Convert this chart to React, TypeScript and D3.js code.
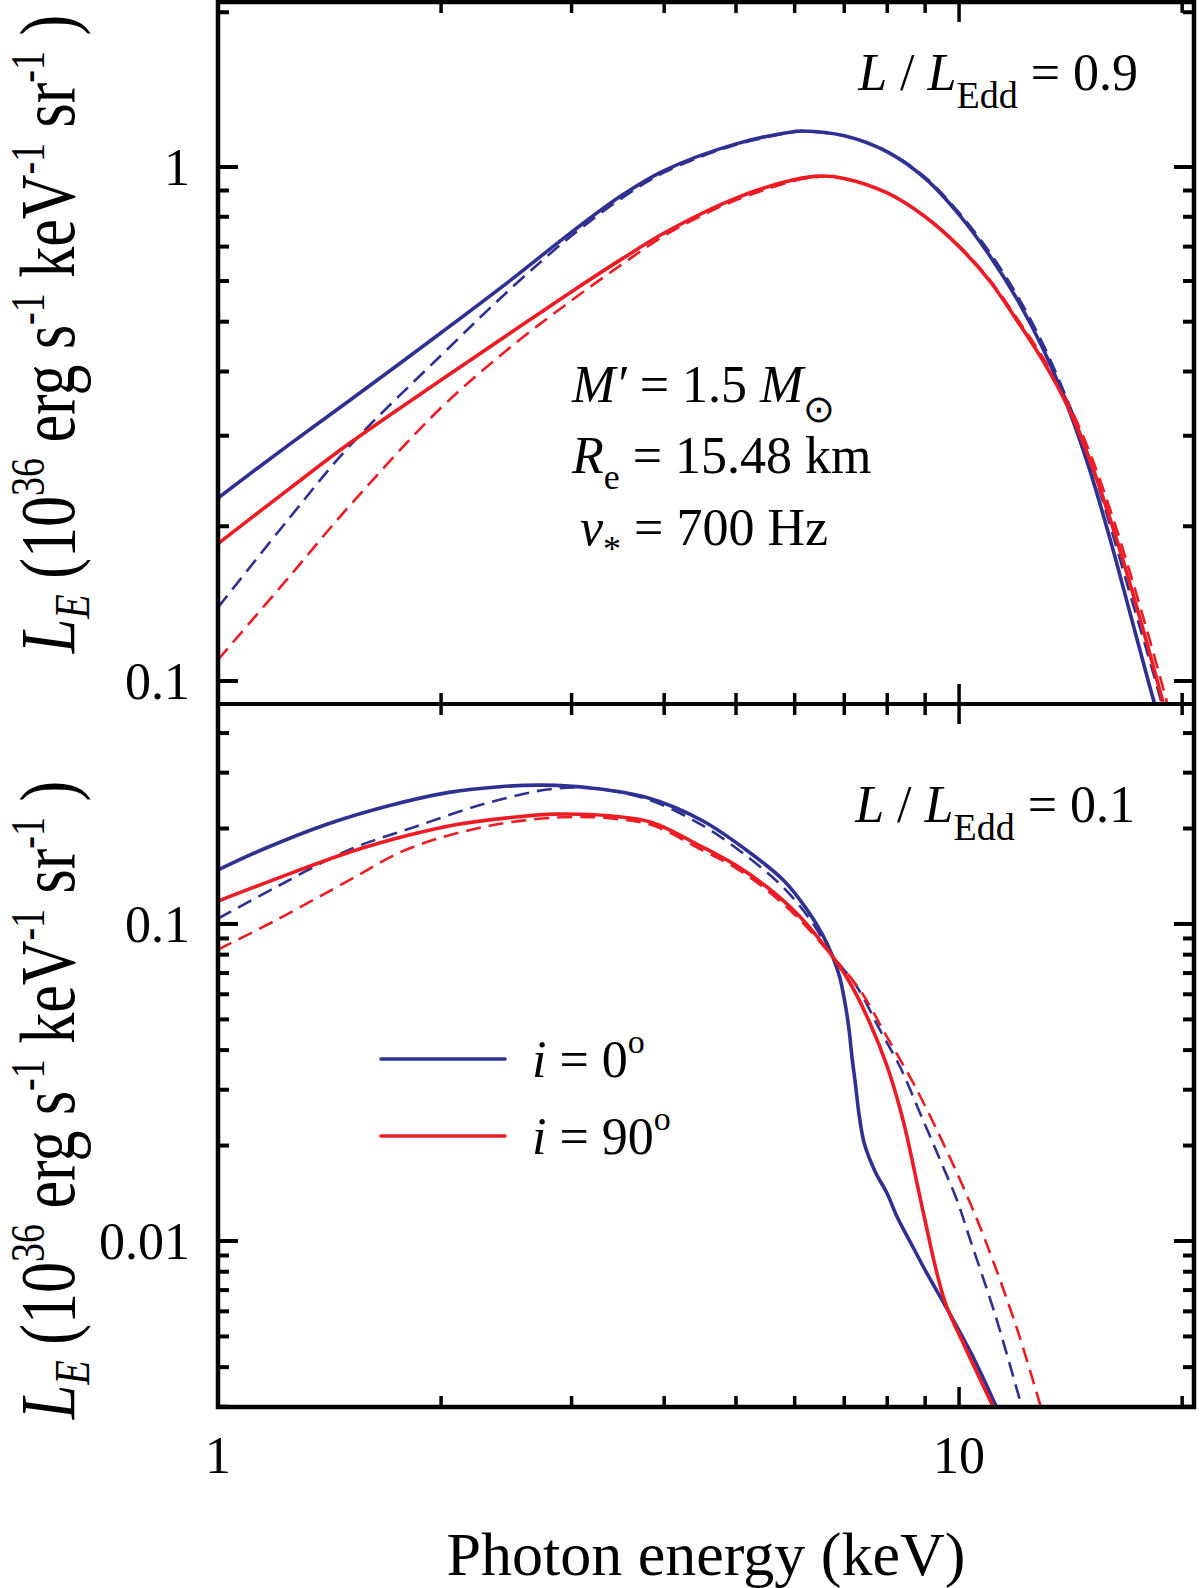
import React from 'react';
import * as d3 from 'd3';

// x axis (photon energy, keV)
const xDomain: [number, number] = [1, 20.75];
const xMajor = [1, 10];
const xMinor = [2, 3, 4, 5, 6, 7, 8, 9, 20];
const xLabels = ['1', '10'];

// top panel, L/LEdd = 0.9
const topDomain: [number, number] = [0.0902, 2.094];
const topMajor = [1, 0.1];
const topMinor = [2, 0.2, 0.3, 0.4, 0.5, 0.6, 0.7, 0.8, 0.9];
const topLabels = ['1', '0.1'];

const topBlueSolidE = [1, 1.25, 1.5, 2, 2.5, 3, 3.5, 4, 5, 6, 6.14, 7, 8, 9, 10, 11, 12, 13, 14, 15, 16, 17, 18, 18.6];
const topBlueSolidL = [0.227, 0.289, 0.35, 0.476, 0.607, 0.747, 0.879, 0.984, 1.109, 1.172, 1.175, 1.15, 1.07, 0.95, 0.808, 0.672, 0.55, 0.441, 0.343, 0.258, 0.188, 0.136, 0.1, 0.0845];
const topBlueDashE = [1, 1.25, 1.5, 2, 2.5, 3, 3.5, 4, 5, 6, 6.14, 7, 8, 9, 10, 11, 12, 13, 14, 15, 16, 17, 18, 19];
const topBlueDashL = [0.139, 0.208, 0.285, 0.43, 0.585, 0.735, 0.868, 0.976, 1.105, 1.17, 1.173, 1.15, 1.072, 0.955, 0.815, 0.682, 0.56, 0.45, 0.352, 0.27, 0.2, 0.148, 0.112, 0.085];
const topRedSolidE = [1, 1.25, 1.5, 2, 2.5, 3, 3.5, 4, 5, 6, 6.5, 7, 8, 9, 10, 11, 12, 13, 14, 15, 16, 17, 18, 19];
const topRedSolidL = [0.185, 0.237, 0.289, 0.385, 0.479, 0.572, 0.661, 0.744, 0.87, 0.945, 0.96, 0.95, 0.89, 0.8, 0.7, 0.6, 0.5, 0.418, 0.343, 0.27, 0.206, 0.155, 0.116, 0.087];
const topRedDashE = [1, 1.25, 1.5, 2, 2.5, 3, 3.5, 4, 4.5, 5, 6, 6.5, 7, 8, 9, 10, 11, 12, 13, 14, 15, 16, 17, 18, 19, 19.5];
const topRedDashL = [0.11, 0.16, 0.218, 0.34, 0.45, 0.55, 0.645, 0.735, 0.805, 0.862, 0.94, 0.957, 0.95, 0.89, 0.8, 0.702, 0.603, 0.505, 0.424, 0.35, 0.279, 0.215, 0.163, 0.123, 0.093, 0.081];

// bottom panel, L/LEdd = 0.1
const botDomain: [number, number] = [0.002995, 0.494];
const botMajor = [0.1, 0.01];
const botMinor = [0.2, 0.3, 0.4, 0.02, 0.03, 0.04, 0.05, 0.06, 0.07, 0.08, 0.09, 0.003, 0.004, 0.005, 0.006, 0.007, 0.008, 0.009];
const botLabels = ['0.1', '0.01'];

const botBlueSolidE = [1, 1.15, 1.4, 1.7, 2.05, 2.4, 2.75, 3.2, 3.8, 4.5, 5.2, 5.8, 6.25, 6.55, 6.75, 6.9, 7.0, 7.1, 7.17, 7.25, 7.33, 7.45, 7.7, 8.0, 8.25, 8.7, 9.05, 9.6, 10.5, 11.3];
const botBlueSolidL = [0.148, 0.172, 0.206, 0.236, 0.26, 0.271, 0.274, 0.268, 0.25, 0.212, 0.169, 0.137, 0.11, 0.092, 0.079, 0.068, 0.058, 0.047, 0.038, 0.031, 0.025, 0.0203, 0.0166, 0.0141, 0.0119, 0.0094, 0.0079, 0.0062, 0.0042, 0.0029];
const botBlueDashE = [1, 1.2, 1.5, 1.85, 2.3, 2.8, 3.2, 3.8, 4.5, 5.2, 5.8, 6.3, 6.77, 7.28, 7.82, 8.32, 8.86, 9.43, 9.93, 10.35, 11.2, 12.2];
const botBlueDashL = [0.104, 0.131, 0.171, 0.203, 0.24, 0.266, 0.268, 0.247, 0.205, 0.162, 0.13, 0.103, 0.0789, 0.0634, 0.0463, 0.0355, 0.0253, 0.018, 0.0135, 0.0101, 0.0058, 0.0029];
const botRedSolidE = [1, 1.2, 1.5, 1.8, 2.1, 2.5, 2.85, 3.4, 3.85, 4.5, 5.0, 5.5, 6.1, 6.7, 7.13, 7.58, 8.0, 8.3, 8.5, 8.86, 9.14, 9.3, 9.6, 10.2, 11.2];
const botRedSolidL = [0.118, 0.139, 0.168, 0.19, 0.206, 0.217, 0.222, 0.219, 0.209, 0.175, 0.153, 0.131, 0.1054, 0.0808, 0.065, 0.0487, 0.0355, 0.0268, 0.0215, 0.0137, 0.0098, 0.0082, 0.0063, 0.0046, 0.0029];
const botRedDashE = [1, 1.2, 1.5, 1.8, 2.3, 2.9, 3.4, 3.85, 4.5, 5.0, 5.5, 6.1, 6.7, 7.35, 7.99, 8.68, 9.43, 10.13, 10.84, 12.0, 13.0];
const botRedDashL = [0.083, 0.103, 0.137, 0.172, 0.203, 0.217, 0.215, 0.205, 0.171, 0.15, 0.128, 0.103, 0.0805, 0.0619, 0.0441, 0.0314, 0.0213, 0.0148, 0.0101, 0.0052, 0.0028];

const BLUE = '#2e3192';
const RED = '#ed1c24';
const FONT = '"Liberation Serif", "Times New Roman", serif';

const left = 218;
const right = 1194;
const top = 2;
const mid = 704;
const bottom = 1407;

const x = d3.scaleLog().domain(xDomain).range([left, right]);

const zip = (e: number[], l: number[]) => e.map((v, i) => [v, l[i]] as [number, number]);

interface Series {
  data: [number, number][];
  color: string;
  dashed: boolean;
}

const topSeries: Series[] = [
  { data: zip(topBlueDashE, topBlueDashL), color: BLUE, dashed: true },
  { data: zip(topRedDashE, topRedDashL), color: RED, dashed: true },
  { data: zip(topBlueSolidE, topBlueSolidL), color: BLUE, dashed: false },
  { data: zip(topRedSolidE, topRedSolidL), color: RED, dashed: false },
];

const botSeries: Series[] = [
  { data: zip(botBlueDashE, botBlueDashL), color: BLUE, dashed: true },
  { data: zip(botRedDashE, botRedDashL), color: RED, dashed: true },
  { data: zip(botBlueSolidE, botBlueSolidL), color: BLUE, dashed: false },
  { data: zip(botRedSolidE, botRedSolidL), color: RED, dashed: false },
];

const MAJOR = 20;
const MINOR = 11;

const Panel: React.FC<{
  id: string;
  y0: number;
  y1: number;
  domain: [number, number];
  major: number[];
  minor: number[];
  labels: string[];
  series: Series[];
}> = ({ id, y0, y1, domain, major, minor, labels, series }) => {
  const y = d3.scaleLog().domain(domain).range([y1, y0]);
  const line = d3
    .line<[number, number]>()
    .x(d => x(d[0]))
    .y(d => y(d[1]))
    .curve(d3.curveCatmullRom.alpha(0.5));

  return (
    <g>
      <defs>
        <clipPath id={id}>
          <rect x={left} y={y0} width={right - left} height={y1 - y0} />
        </clipPath>
      </defs>
      <g clipPath={`url(#${id})`}>
        {series.map((s, i) => (
          <path
            key={i}
            d={line(s.data) || ''}
            fill="none"
            stroke={s.color}
            strokeWidth={s.dashed ? 2.6 : 3.6}
            strokeDasharray={s.dashed ? '15 8' : undefined}
            strokeLinejoin="round"
          />
        ))}
      </g>
      {/* y ticks on both sides, pointing inward */}
      {major.map(v => (
        <g key={`M${v}`}>
          <line x1={left} x2={left + MAJOR} y1={y(v)} y2={y(v)} stroke="#000" strokeWidth={4} />
          <line x1={right} x2={right - MAJOR} y1={y(v)} y2={y(v)} stroke="#000" strokeWidth={4} />
        </g>
      ))}
      {minor.map(v => (
        <g key={`m${v}`}>
          <line x1={left} x2={left + MINOR} y1={y(v)} y2={y(v)} stroke="#000" strokeWidth={4} />
          <line x1={right} x2={right - MINOR} y1={y(v)} y2={y(v)} stroke="#000" strokeWidth={4} />
        </g>
      ))}
      {major.map((v, i) => (
        <text
          key={`l${v}`}
          x={190}
          y={y(v)}
          dy="0.34em"
          textAnchor="end"
          fontSize={52}
          fontFamily={FONT}
        >
          {labels[i]}
        </text>
      ))}
      {/* x ticks on the upper and lower edge of the panel */}
      {[...xMajor.map(v => [v, MAJOR]), ...xMinor.map(v => [v, MINOR])].map(([v, len]) => (
        <g key={`x${v}`}>
          <line x1={x(v)} x2={x(v)} y1={y0} y2={y0 + len} stroke="#000" strokeWidth={3.5} />
          <line x1={x(v)} x2={x(v)} y1={y1} y2={y1 - len} stroke="#000" strokeWidth={3.5} />
        </g>
      ))}
    </g>
  );
};

// rotated axis title; glyphs stretched a bit across the baseline like the original
const YTitle: React.FC<{ cx: number; cy: number }> = ({ cx, cy }) => {
  const sup = { fontSize: 38 };
  return (
    <text
      transform={`translate(${cx},${cy}) rotate(-90) scale(1,1.25)`}
      textAnchor="middle"
      fontSize={62}
      fontFamily={FONT}
    >
      <tspan fontStyle="italic">L</tspan>
      <tspan fontStyle="italic" fontSize={40} dy={12}>E</tspan>
      <tspan dy={-12}> (10</tspan>
      <tspan {...sup} dy={-24}>36</tspan>
      <tspan dy={24}> erg s</tspan>
      <tspan {...sup} dy={-24}>-1</tspan>
      <tspan dy={24}> keV</tspan>
      <tspan {...sup} dy={-24}>-1</tspan>
      <tspan dy={24}> sr</tspan>
      <tspan {...sup} dy={-24}>-1</tspan>
      <tspan dy={24}>  )</tspan>
    </text>
  );
};

const Ratio: React.FC<{ xr: number; yb: number; value: string }> = ({ xr, yb, value }) => (
  <text x={xr} y={yb} textAnchor="end" fontSize={52} fontFamily={FONT}>
    <tspan fontStyle="italic">L</tspan>
    <tspan> / </tspan>
    <tspan fontStyle="italic">L</tspan>
    <tspan fontSize={38} dy={18}>Edd</tspan>
    <tspan dy={-18}> = {value}</tspan>
  </text>
);

export default function App() {
  const legend = [
    { color: BLUE, label: '0', y: 1059 },
    { color: RED, label: '90', y: 1136 },
  ];
  return (
    <div style={{ position: 'absolute', left: 0, top: 0 }}>
      <svg width={1200} height={1588} style={{ display: 'block', background: '#fff' }}>
        <Panel
          id="clipTop"
          y0={top}
          y1={mid}
          domain={topDomain}
          major={topMajor}
          minor={topMinor}
          labels={topLabels}
          series={topSeries}
        />
        <Panel
          id="clipBot"
          y0={mid}
          y1={bottom}
          domain={botDomain}
          major={botMajor}
          minor={botMinor}
          labels={botLabels}
          series={botSeries}
        />
        {/* frame */}
        <rect x={left} y={top} width={right - left} height={bottom - top} fill="none" stroke="#000" strokeWidth={4.5} />
        <line x1={left} x2={right} y1={mid} y2={mid} stroke="#000" strokeWidth={4} />

        {xMajor.map((v, i) => (
          <text key={v} x={x(v)} y={1473} textAnchor="middle" fontSize={52} fontFamily={FONT}>
            {xLabels[i]}
          </text>
        ))}
        <text x={(left + right) / 2} y={1575} textAnchor="middle" fontSize={62} fontFamily={FONT}>
          Photon energy (keV)
        </text>

        <YTitle cx={74} cy={334} />
        <YTitle cx={74} cy={1100} />

        <Ratio xr={1138} yb={90} value="0.9" />
        <Ratio xr={1135} yb={822} value="0.1" />

        {/* model parameters */}
        <g fontSize={52} fontFamily={FONT}>
          <text x={572} y={402}>
            <tspan fontStyle="italic">M′</tspan>
            <tspan> = 1.5 </tspan>
            <tspan fontStyle="italic">M</tspan>
            <tspan fontSize={38} dy={20}>⊙</tspan>
          </text>
          <text x={572} y={473}>
            <tspan fontStyle="italic">R</tspan>
            <tspan fontSize={36} dy={16}>e</tspan>
            <tspan dy={-16}> = 15.48 km</tspan>
          </text>
          <text x={580} y={545}>
            <tspan fontStyle="italic">ν</tspan>
            <tspan fontSize={36} dy={16}>*</tspan>
            <tspan dy={-16}> = 700 Hz</tspan>
          </text>
        </g>

        {/* legend */}
        {legend.map(l => (
          <g key={l.label}>
            <line x1={381} x2={505} y1={l.y} y2={l.y} stroke={l.color} strokeWidth={3.6} strokeLinecap="round" />
            <text x={532} y={l.y + 18} fontSize={52} fontFamily={FONT}>
              <tspan fontStyle="italic">i</tspan>
              <tspan> = {l.label}</tspan>
              <tspan fontSize={34} dy={-24}>o</tspan>
            </text>
          </g>
        ))}
      </svg>
    </div>
  );
}
